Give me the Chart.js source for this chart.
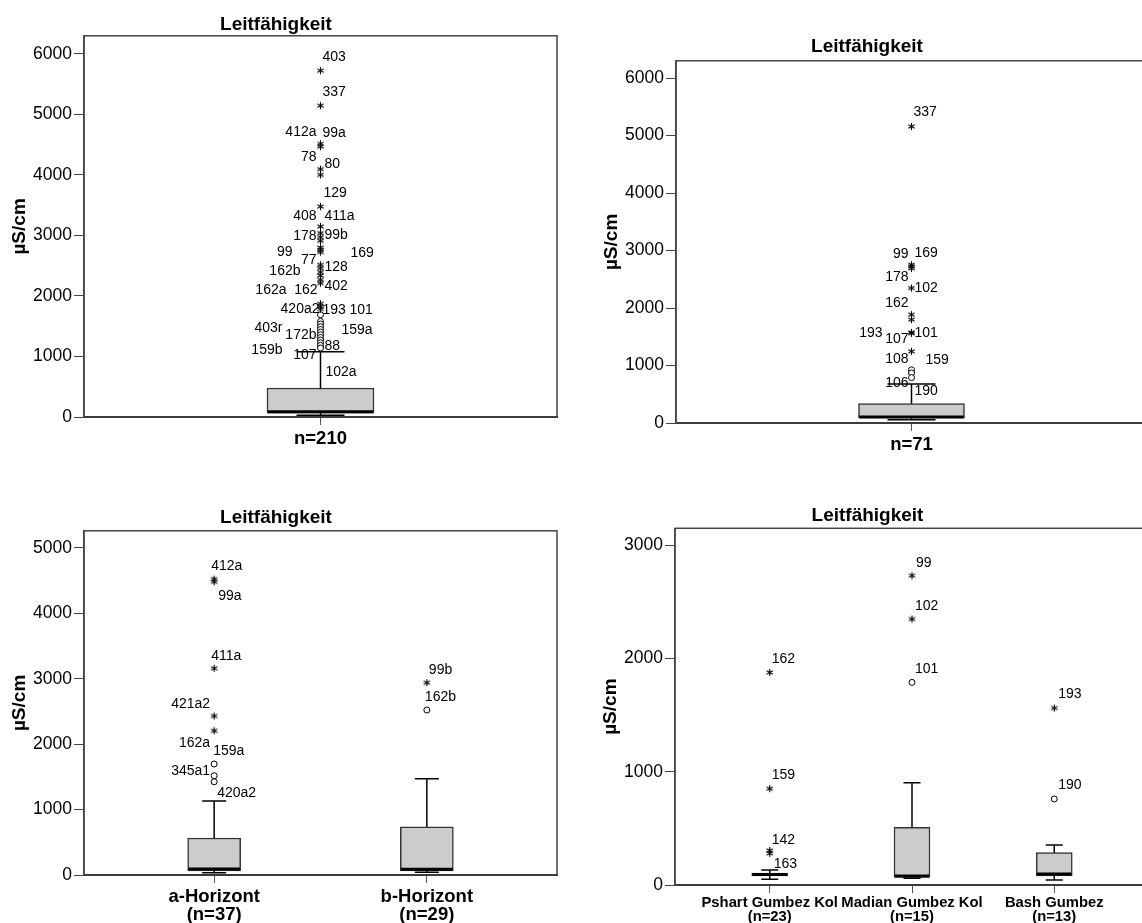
<!DOCTYPE html>
<html>
<head>
<meta charset="utf-8">
<script src="https://cdn.jsdelivr.net/npm/chart.js@4.4.1/dist/chart.umd.min.js"></script>
<style>
html,body{margin:0;padding:0;background:#fff;}
body{position:relative;width:1142px;height:923px;overflow:hidden;}
canvas{position:absolute;}
</style>
</head>
<body>
<canvas id="c1" width="572" height="457" style="left:-10px;top:0px"></canvas>
<canvas id="c2" width="570" height="441" style="left:582px;top:22px"></canvas>
<canvas id="c3" width="572" height="430" style="left:-10px;top:493px"></canvas>
<canvas id="c4" width="573" height="434" style="left:581px;top:491px"></canvas>
<script>

// ---------- DATA ----------

// top left: all samples
const cats1 = [["n=210"]];
const low1 = [30], q1_1 = [65], med1 = [88], q3_1 = [479], high1 = [1078];
const yTicks1 = [0, 1000, 2000, 3000, 4000, 5000, 6000];
const stars1 = [[0,5724],[0,5146],[0,4514],[0,4469],[0,4096],[0,4002],[0,3478],[0,3148],
  [0,3039],[0,2973],[0,2912],[0,2801],[0,2763],[0,2725],[0,2515],[0,2461],[0,2395],[0,2339],
  [0,2268],[0,2213],[0,1871],[0,1827],[0,1784]];
const circles1 = [[0,1690],[0,1579],[0,1536],[0,1491],[0,1447],[0,1403],[0,1359],[0,1315],
  [0,1272],[0,1227],[0,1183],[0,1140]];
const labels1 = [["403",0,5945],["337",0,5377],["412a",0,4700],["99a",0,4690],["78",0,4287],
  ["80",0,4178],["129",0,3700],["408",0,3313],["411a",0,3324],["178",0,2994],["99b",0,3011],
  ["99",0,2718],["169",0,2708],["77",0,2598],["128",0,2471],["162b",0,2405],["162a",0,2102],
  ["162",0,2102],["402",0,2157],["420a2",0,1784],["193",0,1772],["101",0,1772],["403r",0,1470],
  ["172b",0,1359],["159a",0,1443],["159b",0,1111],["107",0,1029],["88",0,1166],["102a",0,743]];

// top right
const cats2 = [["n=71"]];
const low2 = [57], q1_2 = [87], med2 = [104], q3_2 = [336], high2 = [678];
const yTicks2 = [0, 1000, 2000, 3000, 4000, 5000, 6000];
const stars2 = [[0,5158],[0,2753],[0,2723],[0,2690],[0,2348],[0,1884],[0,1797],[0,1576],[0,1560],[0,1246]];
const circles2 = [[0,925],[0,870],[0,790]];
const labels2 = [["337",0,5402],["99",0,2944],["169",0,2957],["178",0,2539],["102",0,2348],
  ["162",0,2087],["193",0,1565],["107",0,1461],["101",0,1565],["108",0,1113],["159",0,1101],
  ["106",0,696],["190",0,550]];

// bottom left: horizons
const cats3 = [["a-Horizont","(n=37)"], ["b-Horizont","(n=29)"]];
const low3 = [35, 41], q1_3 = [62, 62], med3 = [90, 87], q3_3 = [565, 738], high3 = [1130, 1471];
const yTicks3 = [0, 1000, 2000, 3000, 4000, 5000];
const stars3 = [[0,4522],[0,4481],[0,3158],[0,2429],[0,2204],[1,2938]];
const circles3 = [[0,1696],[0,1517],[0,1425],[1,2521]];
const labels3 = [["412a",0,4725],["99a",0,4267],["411a",0,3350],["421a2",0,2612],["162a",0,2012],
  ["159a",0,1899],["345a1",0,1593],["420a2",0,1250],["99b",1,3132],["162b",1,2715]];

// bottom right: valleys
const cats4 = [["Pshart Gumbez Kol","(n=23)"], ["Madian Gumbez Kol","(n=15)"], ["Bash Gumbez","(n=13)"]];
const low4 = [50, 59, 44], q1_4 = [80, 68, 80], med4 = [92, 80, 97], q3_4 = [105, 510, 286], high4 = [133, 904, 354];
const yTicks4 = [0, 1000, 2000, 3000];
const stars4 = [[0,1877],[0,851],[0,305],[0,280],[1,2732],[1,2349],[2,1562]];
const circles4 = [[1,1789],[2,760]];
const labels4 = [["162",0,1996],["159",0,973],["142",0,398],["163",0,186],["99",1,2838],
  ["102",1,2467],["101",1,1907],["193",2,1686],["190",2,878]];


// ---------- LABEL LAYOUT (pixel offset from box centre, text align) ----------

const labelPos1 = [[2,"left"],[2,"left"],[-4,"right"],[2,"left"],[-4,"right"],[4,"left"],[3,"left"],
  [-4,"right"],[4,"left"],[-4,"right"],[4,"left"],[-28,"right"],[30,"left"],[-4,"right"],[4,"left"],
  [-20,"right"],[-34,"right"],[-3,"right"],[4,"left"],[-1,"right"],[2,"left"],[29,"left"],
  [-38,"right"],[-4,"right"],[21,"left"],[-38,"right"],[-4,"right"],[4,"left"],[5,"left"]];
const labelPos2 = [[2,"left"],[-3,"right"],[3,"left"],[-3,"right"],[3,"left"],[-3,"right"],
  [-29,"right"],[-3,"right"],[3,"left"],[-3,"right"],[14,"left"],[-3,"right"],[3,"left"]];
const labelPos3 = [[-3,"left"],[4,"left"],[-3,"left"],[-4,"right"],[-4,"right"],[-1,"left"],
  [-4,"right"],[3,"left"],[2,"left"],[-2,"left"]];
const labelPos4 = [[2,"left"],[2,"left"],[2,"left"],[4,"left"],[4,"left"],[3,"left"],[3,"left"],
  [4,"left"],[4,"left"]];


const FONT = '"Liberation Sans", Arial, sans-serif';

// six-spoke asterisk used for the extreme values
function asterisk(){
  const c = document.createElement("canvas");
  c.width = 9; c.height = 9;
  const g = c.getContext("2d");
  g.strokeStyle = "#000";
  g.lineWidth = 1.1;
  [90, 30, 150].forEach(a => {
    const r = a * Math.PI / 180, dx = Math.cos(r) * 3.6, dy = Math.sin(r) * 3.6;
    g.beginPath();
    g.moveTo(4.5 - dx, 4.5 - dy);
    g.lineTo(4.5 + dx, 4.5 + dy);
    g.stroke();
  });
  return c;
}
const STAR = asterisk();

// frame round the plot area
const framePlugin = {
  id: "frame",
  beforeDatasetsDraw(chart){
    const a = chart.chartArea, ctx = chart.ctx;
    ctx.save();
    ctx.strokeStyle = "#444";
    ctx.lineWidth = 1.5;
    ctx.strokeRect(a.left, a.top, a.right - a.left, a.bottom - a.top);
    ctx.restore();
  }
};

// case labels next to the outliers
function labelPlugin(labels, pos){
  return {
    id: "caseLabels",
    afterDatasetsDraw(chart){
      const ctx = chart.ctx, xs = chart.scales.x, ys = chart.scales.y;
      ctx.save();
      ctx.font = "14px " + FONT;
      ctx.fillStyle = "#000";
      ctx.textBaseline = "middle";
      labels.forEach((l, k) => {
        ctx.textAlign = pos[k][1];
        ctx.fillText(l[0], xs.getPixelForValue(l[1]) + pos[k][0], ys.getPixelForValue(l[2]));
      });
      ctx.restore();
    }
  };
}


// ---------- BOX PLOT ----------

function boxChart(id, d, look){

const idx = d.cats.map((c, i) => i);
const datasets = [];

// whiskers (behind the box)
idx.forEach(i => datasets.push({
  type: "line",
  data: [{x: i, y: d.low[i]}, {x: i, y: d.high[i]}],
  borderColor: "#000", borderWidth: 1.5, pointRadius: 0, order: 5
}));

// box from q1 to q3
datasets.push({
  type: "bar",
  data: idx.map(i => ({x: i, y: [d.q1[i], d.q3[i]]})),
  backgroundColor: "#cccccc", borderColor: "#333", borderWidth: 1.5,
  borderSkipped: false, barThickness: look.boxW, order: 4
});

// median
datasets.push({
  type: "scatter",
  data: idx.map(i => ({x: i, y: d.med[i]})),
  pointStyle: "line", pointRadius: look.boxW / 2 - 0.75,
  pointBorderColor: "#000", pointBorderWidth: 3, order: 3
});

// whisker caps
datasets.push({
  type: "scatter",
  data: idx.flatMap(i => [{x: i, y: d.low[i]}, {x: i, y: d.high[i]}]),
  pointStyle: "line", pointRadius: look.cap,
  pointBorderColor: "#000", pointBorderWidth: 1.5, order: 3
});

// extremes and outliers
datasets.push({
  type: "scatter",
  data: d.stars.map(s => ({x: s[0], y: s[1]})),
  pointStyle: STAR, pointRadius: 4, order: 2
});
datasets.push({
  type: "scatter",
  data: d.circles.map(s => ({x: s[0], y: s[1]})),
  pointStyle: "circle", pointRadius: 3,
  pointBackgroundColor: "#fff", pointBorderColor: "#000", pointBorderWidth: 1, order: 2
});

new Chart(document.getElementById(id), {
  type: "bar",
  data: { datasets: datasets },
  plugins: [framePlugin, labelPlugin(d.labels, d.labelPos)],
  options: {
    responsive: false,
    animation: false,
    events: [],
    devicePixelRatio: 1,
    layout: { autoPadding: false, padding: { left: 5, right: 5, top: 0, bottom: 0 } },
    plugins: {
      legend: { display: false },
      tooltip: { enabled: false },
      title: {
        display: true, text: "Leitfähigkeit", color: "#000",
        font: { family: FONT, size: 19, weight: "bold" },
        padding: { top: 13, bottom: look.titlePB }
      }
    },
    scales: {
      x: {
        type: "linear", min: look.xMin, max: look.xMax, offset: false,
        afterBuildTicks: s => { s.ticks = idx.map(i => ({value: i})); },
        afterFit: s => { s.height = look.xH; },
        ticks: {
          callback: v => d.cats[v], color: "#000",
          font: { family: FONT, size: look.xFont, weight: "bold", lineHeight: look.xLH },
          padding: look.xPad, autoSkip: false, maxRotation: 0, minRotation: 0
        },
        grid: { drawOnChartArea: false, tickLength: 8, color: "#555", offset: false },
        border: { display: true, color: "#222", width: 2 }
      },
      y: {
        type: "linear", min: 0, max: look.yMax,
        afterBuildTicks: s => { s.ticks = d.yTicks.map(v => ({value: v})); },
        afterFit: s => { s.width = 89; },
        ticks: { callback: v => String(v), color: "#000", font: { family: FONT, size: 17.5 }, padding: 2 },
        grid: { drawOnChartArea: false, tickLength: 10, color: "#444" },
        border: { display: true, color: "#444", width: 1.5 },
        title: {
          display: true, text: "µS/cm", color: "#000",
          font: { family: FONT, size: 19, weight: "bold" },
          padding: { top: 13.5, bottom: 0 }
        }
      }
    }
  }
});

}


// ---------- DRAW THE FOUR PANELS ----------

boxChart("c1",
  {cats: cats1, low: low1, q1: q1_1, med: med1, q3: q3_1, high: high1, yTicks: yTicks1,
   stars: stars1, circles: circles1, labels: labels1, labelPos: labelPos1},
  {boxW: 107, cap: 24, xMin: -1, xMax: 1, yMax: 6300, titlePB: 0, xH: 40, xFont: 18.5, xLH: 1, xPad: 5});

boxChart("c2",
  {cats: cats2, low: low2, q1: q1_2, med: med2, q3: q3_2, high: high2, yTicks: yTicks2,
   stars: stars2, circles: circles2, labels: labels2, labelPos: labelPos2},
  {boxW: 106, cap: 24, xMin: -1, xMax: 1, yMax: 6300, titlePB: 3, xH: 40, xFont: 18.5, xLH: 1, xPad: 5});

boxChart("c3",
  {cats: cats3, low: low3, q1: q1_3, med: med3, q3: q3_3, high: high3, yTicks: yTicks3,
   stars: stars3, circles: circles3, labels: labels3, labelPos: labelPos3},
  {boxW: 53, cap: 12, xMin: -0.612, xMax: 1.612, yMax: 5260, titlePB: 2, xH: 48, xFont: 18.5, xLH: 1, xPad: 4.5});

boxChart("c4",
  {cats: cats4, low: low4, q1: q1_4, med: med4, q3: q3_4, high: high4, yTicks: yTicks4,
   stars: stars4, circles: circles4, labels: labels4, labelPos: labelPos4},
  {boxW: 36, cap: 8.5, xMin: -0.666, xMax: 2.666, yMax: 3150, titlePB: 1.5, xH: 40, xFont: 14.8, xLH: 0.9, xPad: 3.6});

</script>
</body>
</html>
